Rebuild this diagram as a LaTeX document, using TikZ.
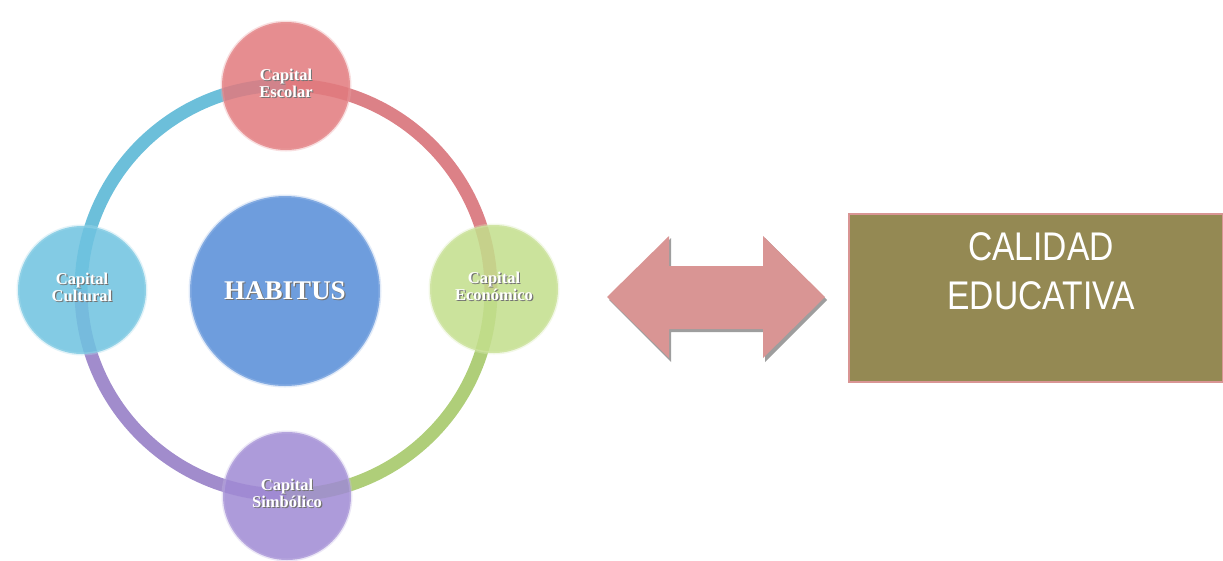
\documentclass[tikz,border=0pt]{standalone}
\usepackage{fontspec}
\setmainfont{Liberation Serif}
\newfontfamily\boxfont[FakeStretch=0.84]{Liberation Sans}
\definecolor{escF}{HTML}{E27A7E}
\definecolor{culF}{HTML}{6FC3E0}
\definecolor{ecoF}{HTML}{C3DE8C}
\definecolor{simF}{HTML}{A08AD4}
\definecolor{habF}{HTML}{6E9DDD}
\definecolor{ringR}{HTML}{D8737A}
\definecolor{ringG}{HTML}{A6C96A}
\definecolor{ringP}{HTML}{9780C6}
\definecolor{ringB}{HTML}{5CB8D6}
\definecolor{arrowF}{HTML}{D99594}
\definecolor{boxF}{HTML}{948953}
\newcommand\shtxt[1]{\makebox[0pt][l]{\raisebox{-1.2pt}{\hspace{1.2pt}\color{black!55}#1}}{\color{white}#1}}
\newcommand\twoline[2]{\begin{tabular}{@{}c@{}}#1\\#2\end{tabular}}
\tikzset{
  sat/.style={circle, minimum size=128pt, inner sep=0pt, fill opacity=0.86, text opacity=1,
    font=\bfseries\fontsize{16.5}{17.5}\selectfont, align=center},
  rim/.style={line width=3pt, draw opacity=0.35},
  ringseg/.style={line width=13pt, draw opacity=0.9},
}
\begin{document}
\begin{tikzpicture}[x=1pt,y=-1pt]
\useasboundingbox (0,0) rectangle (1223,560);
% satellite positions on the ring
\coordinate (escC) at (286,85);
\coordinate (culC) at (81,290);
\coordinate (ecoC) at (491,290);
\coordinate (simC) at (286,495);
% ring segments (y axis points down, so angles run clockwise on screen)
\draw[ringseg, ringR] (escC) arc[start angle=-90, end angle=0, radius=205];
\draw[ringseg, ringG] (ecoC) arc[start angle=0, end angle=90, radius=205];
\draw[ringseg, ringP] (simC) arc[start angle=90, end angle=180, radius=205];
\draw[ringseg, ringB] (culC) arc[start angle=180, end angle=270, radius=205];
% circles
\node[sat, fill=escF, draw=escF!70!white, rim] (esc) at (286,86) {\shtxt{\twoline{Capital}{Escolar}}};
\node[sat, fill=culF, draw=culF!60!white, rim] (cul) at (82,290) {\shtxt{\twoline{Capital}{Cultural}}};
\node[sat, fill=ecoF, draw=ecoF!60!white, rim] (eco) at (494,289) {\shtxt{\twoline{Capital}{Económico}}};
\node[sat, fill=simF, draw=simF!60!white, rim] (sim) at (287,496) {\shtxt{\twoline{Capital}{Simbólico}}};
\node[circle, minimum size=190pt, inner sep=0pt, fill=habF, draw=habF!60!white, rim,
  font=\bfseries\fontsize{27}{30}\selectfont] (hab) at (285,291) {\shtxt{HABITUS}};
% double arrow with shadow
\fill[black!38] (609,300) -- (671,238) -- (671,269) -- (765,269) -- (765,238) -- (827,300)
  -- (765,362) -- (765,332) -- (671,332) -- (671,362) -- cycle;
\fill[arrowF] (607,297) -- (669,236) -- (669,266) -- (763,266) -- (763,236) -- (825,297)
  -- (763,358) -- (763,329) -- (669,329) -- (669,358) -- cycle;
% box
\node[draw=arrowF, line width=2pt, fill=boxF, minimum width=374pt, minimum height=168pt,
  inner sep=0pt, anchor=north west] (box) at (848,213) {};
\node[text=white, font=\boxfont\fontsize{40}{49}\selectfont, align=center, anchor=north]
  (boxtxt) at (1041,229) {CALIDAD\\EDUCATIVA};
\end{tikzpicture}
\end{document}
